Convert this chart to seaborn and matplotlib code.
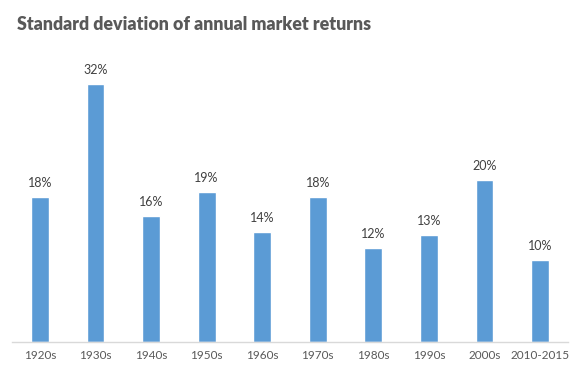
import matplotlib
matplotlib.use("Agg")
import matplotlib.pyplot as plt
import seaborn as sns
import pandas as pd

decades = ["1920s", "1930s", "1940s", "1950s", "1960s", "1970s",
           "1980s", "1990s", "2000s", "2010-2015"]
std_dev = [18.0, 32.0, 15.6, 18.6, 13.6, 18.0, 11.7, 13.3, 20.1, 10.2]

df = pd.DataFrame({"Decade": decades, "StdDev": std_dev})

sns.set_style("white")
plt.rcParams["font.family"] = ["Lato", "DejaVu Sans"]

fig = plt.figure(figsize=(5.8, 3.8), dpi=100)
ax = fig.add_axes([0.021, 0.1, 0.958, 0.742])

sns.barplot(data=df, x="Decade", y="StdDev", color="#5B9BD5",
            saturation=1, width=0.32, ax=ax)

# value labels above bars
for i, v in enumerate(std_dev):
    ax.text(i, v + 1.0, f"{v:.0f}%", ha="center", va="bottom",
            fontsize=9, color="#404040")

ax.set_ylim(0, 35)
ax.set_xlim(-0.5, len(decades) - 0.5)
ax.set_xlabel("")
ax.set_ylabel("")
ax.set_yticks([])
ax.tick_params(axis="x", length=0, pad=6, labelsize=8.5, labelcolor="#595959")
for s in ["top", "right", "left"]:
    ax.spines[s].set_visible(False)
ax.spines["bottom"].set_color("#D9D9D9")
ax.spines["bottom"].set_linewidth(1)

fig.text(0.029, 0.935, "Standard deviation of annual market returns",
         fontsize=12.8, fontweight="heavy", color="#595959", va="center")

fig.savefig("out.png", dpi=100)
